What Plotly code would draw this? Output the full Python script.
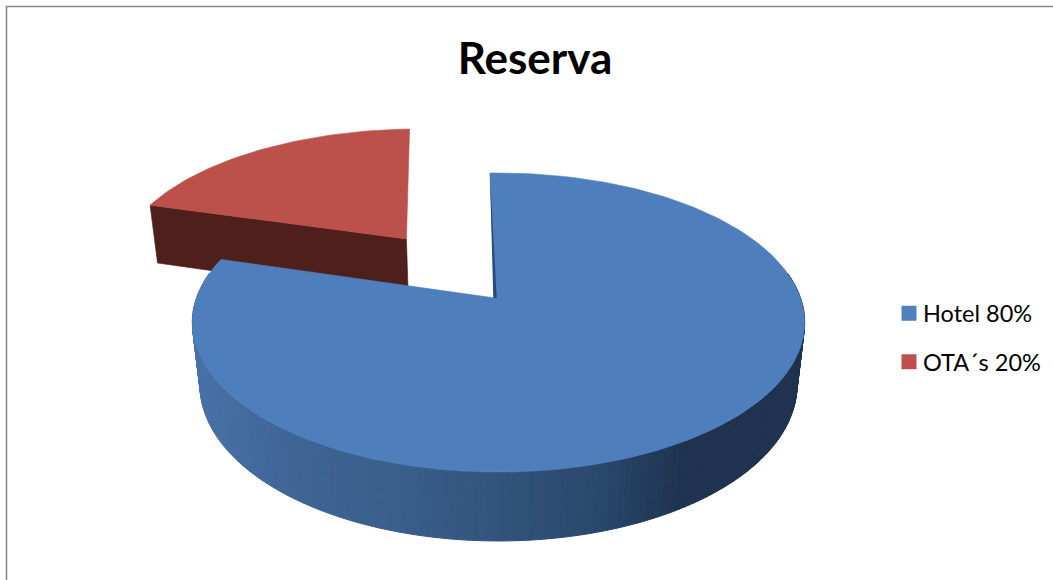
import numpy as np
import plotly.graph_objects as go

labels = ["Hotel 80%", "OTA´s 20%"]
values = [80, 20]
title = "Reserva"

WIDTH, HEIGHT = 1053, 580
APEX_X, APEX_Y = 495.0, 298.0
RIM_CX = 498.5
RED_CX = 491.0
RX, RY = 302.0, 145.5      # plane scale of the disc
PERSP = 0.164              # perspective strength
DROP, DROP_W = 63.7, 0.025 # thickness of the disc on screen
START_DEG = -1.9
EXPLODE_U, EXPLODE_V = -0.30, -0.435

BLUE_TOP = "#4e7ebb"
RED_TOP = "#bc504b"
RED_SIDE = "#4f1f1b"
BLUE_CUT = "#2b4a75"
LEGEND_BLUE = "#4f81bd"
LEGEND_RED = "#c0504d"
SIDE_STOP_X = [199, 300, 400, 500, 600, 680, 797]
SIDE_STOP_RGB = [(72, 114, 168), (63, 101, 149), (58, 95, 140), (50, 84, 124),
                 (42, 72, 107), (31, 51, 80), (31, 51, 80)]


def project(u, v, cx, lower=False):
    """Map a point of the disc plane (v>0 = near the viewer) to the picture."""
    w = 1 - PERSP * v + (DROP_W if lower else 0)
    x = cx + RX * u / w
    y = APEX_Y + (RY * v + (DROP if lower else 0)) / w
    return x, y


def rim(t_deg, u0=0.0, v0=0.0):
    t = np.radians(t_deg)
    return np.sin(t) + u0, -np.cos(t) + v0


total = sum(values)
blue_sweep = 360 * values[0] / total
blue_end = START_DEG + blue_sweep
red_end = blue_end + 360 * values[1] / total

fig = go.Figure()


def poly(xs, ys, color, lw=0.6):
    fig.add_trace(go.Scatter(
        x=list(xs), y=list(ys), mode="lines", fill="toself", fillcolor=color,
        line=dict(color=color, width=lw), hoverinfo="skip", showlegend=False))


# Red slice: outer side facing the viewer, then its top
red_t = np.linspace(blue_end, red_end, 60)
ru, rv = rim(red_t, EXPLODE_U, EXPLODE_V)
rx_top, ry_top = project(ru, rv, RED_CX)
ax_top, ay_top = project(EXPLODE_U, EXPLODE_V, RED_CX)
ax_low, ay_low = project(EXPLODE_U, EXPLODE_V, RED_CX, lower=True)
px_low, py_low = project(ru[0], rv[0], RED_CX, lower=True)
poly([rx_top[0], ax_top, ax_low, px_low, rx_top[0]],
     [ry_top[0], ay_top, ay_low, py_low, ry_top[0]], RED_SIDE)
poly(np.r_[ax_top, rx_top, ax_top], np.r_[ay_top, ry_top, ay_top], RED_TOP)

# Blue disc side, shaded in narrow strips
edges = np.linspace(80, 280, 201)
for a, b in zip(edges[:-1], edges[1:]):
    ua, va = rim(np.array([a, b]))
    xt, yt = project(ua, va, RIM_CX)
    xl, yl = project(ua, va, RIM_CX, lower=True)
    mid = float(np.mean(xl))
    rgb = [np.interp(mid, SIDE_STOP_X, [c[i] for c in SIDE_STOP_RGB]) for i in range(3)]
    poly([xt[0], xt[1], xl[1], xl[0], xt[0]], [yt[0], yt[1], yl[1], yl[0], yt[0]],
         "rgb(%d,%d,%d)" % tuple(rgb), lw=1)

# Blue top
blue_t = np.linspace(START_DEG, blue_end, 240)
bu, bv = rim(blue_t)
bx, by = project(bu, bv, RIM_CX)
poly(np.r_[APEX_X, bx, APEX_X], np.r_[APEX_Y, by, APEX_Y], BLUE_TOP)
# Thin cut face along the first edge of the blue slice
poly([bx[0], APEX_X + 1.7, APEX_X - 1.7, bx[0]], [by[0], APEX_Y, APEX_Y, by[0]], BLUE_CUT, lw=0)

# Legend entries
for name, color in zip(labels, [LEGEND_BLUE, LEGEND_RED]):
    fig.add_trace(go.Scatter(
        x=[None], y=[None], mode="markers", name=name, legendgroup=name,
        marker=dict(symbol="square", size=15, color=color)))

fig.update_layout(
    width=WIDTH, height=HEIGHT,
    margin=dict(l=0, r=0, t=0, b=0),
    paper_bgcolor="white", plot_bgcolor="white",
    xaxis=dict(range=[0, WIDTH], visible=False, fixedrange=True),
    yaxis=dict(range=[HEIGHT, 0], visible=False, fixedrange=True),
    title=dict(text="<b>%s</b>" % title, x=535 / WIDTH, xanchor="center",
               y=1 - 59 / HEIGHT, yanchor="middle",
               font=dict(family="Lato", size=44, color="black")),
    legend=dict(x=889 / WIDTH, xanchor="left", y=1 - 291.5 / HEIGHT, yanchor="top",
                font=dict(family="Lato", size=23.5, color="black"),
                tracegroupgap=15, bgcolor="rgba(0,0,0,0)"),
    shapes=[
        dict(type="line", xref="x", yref="y", x0=6, x1=WIDTH, y0=6.5, y1=6.5,
             line=dict(color="#868686", width=1.5)),
        dict(type="line", xref="x", yref="y", x0=6.5, x1=6.5, y0=6, y1=HEIGHT,
             line=dict(color="#868686", width=1.5)),
    ],
)

# Zero the page margin and bring the legend text closer to its swatch
post = """
document.body.style.margin='0';
document.querySelectorAll('.legendtext').forEach(function(t){
  t.setAttribute('x', parseFloat(t.getAttribute('x')) - 6);
});
"""
fig.write_html("out.html", post_script=post, config={"displayModeBar": False})
